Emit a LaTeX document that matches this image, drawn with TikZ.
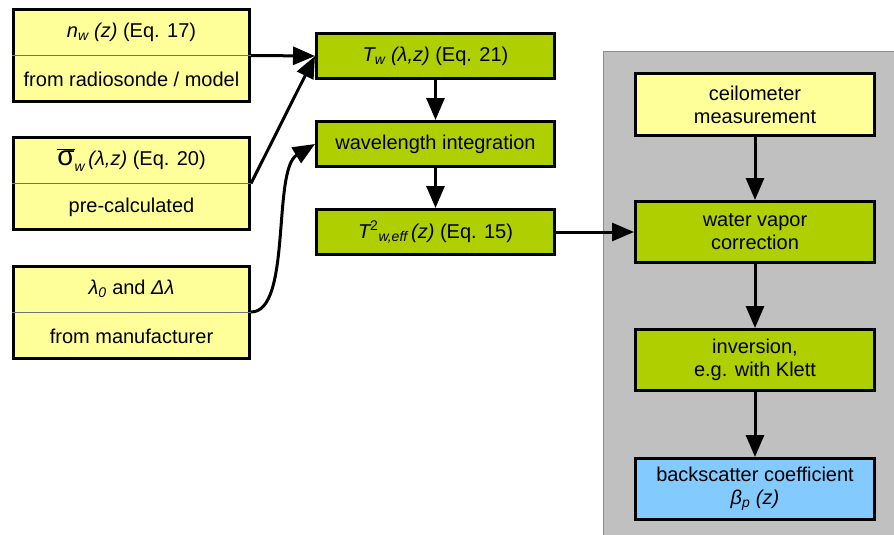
\documentclass[tikz,border=0pt]{standalone}
\usepackage{fontspec}
\setmainfont{Liberation Sans}
\usetikzlibrary{arrows.meta,calc}

\definecolor{srcyellow}{HTML}{FFFF99}
\definecolor{procgreen}{HTML}{B0CF00}
\definecolor{resblue}{HTML}{83CAFF}
\definecolor{panelgray}{HTML}{C0C0C0}

\tikzset{
  srcbox/.style={draw, line width=3pt, fill=srcyellow, minimum width=236pt, minimum height=92pt, inner sep=0pt},
  procbox/.style={draw, line width=3pt, fill=procgreen, minimum width=238pt, minimum height=45pt, inner sep=0pt, align=center},
  chainbox/.style={draw, line width=3pt, minimum width=239pt, minimum height=61pt, inner sep=0pt, align=center},
  divider/.style={draw=black!55, line width=0.8pt},
  flow/.style={line width=3pt, -{Triangle[length=22pt,width=18pt]}}
}

\begin{document}
\begin{tikzpicture}[x=1pt,y=-1pt, every node/.style={font=\fontsize{20}{23}\selectfont}]

\useasboundingbox (0,0) rectangle (894,535);

% instrument panel
\draw[fill=panelgray, draw=black!45, line width=1pt] (603,52) rectangle (900,545);

% input boxes
\node[srcbox] (nw) at (131.5,55.5) {};
\draw[divider] (nw.west)--(nw.east);
\node (nwtop) at ($(nw.center)+(0,-23)$) {{\itshape n\textsubscript{w} (z)} (Eq. 17)};
\node (nwbot) at ($(nw.center)+(0,24)$) {from radiosonde / model};

\node[srcbox] (sig) at (131.5,183.5) {};
\draw[divider] (sig.west)--(sig.east);
\node (sigtop) at ($(sig.center)+(0,-23)$) {{\fontsize{28}{28}\selectfont$\overline{\mbox{σ}}$}\raisebox{-3pt}{\textsubscript{\itshape w}}\,{\itshape (λ,z)} (Eq. 20)};
\node (sigbot) at ($(sig.center)+(0,24)$) {pre-calculated};

\node[srcbox] (lam) at (131.5,312) {};
\draw[divider] (lam.west)--(lam.east);
\node (lamtop) at ($(lam.center)+(0,-23)$) {{\itshape λ\textsubscript{0}} and {\itshape Δλ}};
\node (lambot) at ($(lam.center)+(0,24)$) {from manufacturer};

% transmission chain
\node[procbox] (Tw) at (435.5,56) {{\itshape T\textsubscript{w} (λ,z)} (Eq. 21)};
\node[procbox] (wl) at (435.5,144) {wavelength integration};
\node[procbox] (Teff) at (435.5,232) {{\itshape T}\textsuperscript{2}\textsubscript{\itshape w,eff}\,{\itshape (z)} (Eq. 15)};

% ceilometer chain
\node[chainbox, fill=srcyellow] (ceil) at (755,104.5) {ceilometer\\measurement};
\node[chainbox, fill=procgreen] (wv) at (755,232) {water vapor\\correction};
\node[chainbox, fill=procgreen] (inv) at (755,360) {inversion,\\e.g. with Klett};
\node[chainbox, fill=resblue] (bs) at (755,489) {backscatter coefficient\\{\itshape β\textsubscript{p} (z)}};

\draw[flow] (nw.east)--(Tw.west);
\draw[flow] (sig.east)--(Tw.west);
\draw[flow] (lam.east) .. controls (292,312) and (272,170) .. (wl.west);

\draw[flow] (Tw.south)--(wl.north);
\draw[flow] (wl.south)--(Teff.north);
\draw[flow] (Teff.east)--(wv.west);

\draw[flow] (ceil.south)--(wv.north);
\draw[flow] (wv.south)--(inv.north);
\draw[flow] (inv.south)--(bs.north);

\end{tikzpicture}
\end{document}
